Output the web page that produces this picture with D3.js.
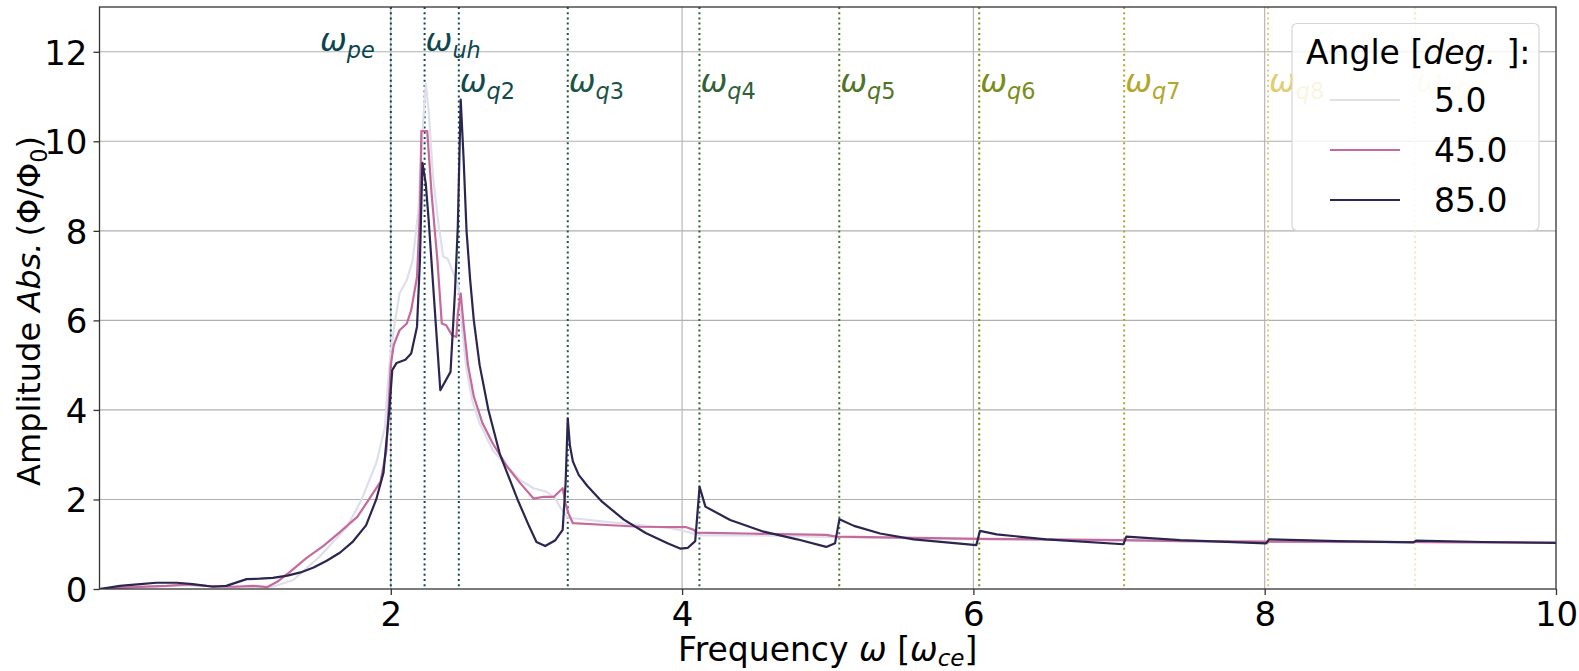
<!DOCTYPE html>
<html>
<head>
<meta charset="utf-8">
<script src="https://cdn.jsdelivr.net/npm/d3@7"></script>
<style>
  html, body { margin: 0; padding: 0; background: #fff; }
  svg { display: block; font-family: "DejaVu Sans", sans-serif; }
</style>
</head>
<body>
<svg id="chart" width="1579" height="671"></svg>
<script>
// Frequency samples (in units of w_ce) and response amplitude for each propagation angle
const freq5 = [0, 0.3, 0.6, 0.9, 1.19, 1.33, 1.51, 1.70, 1.80, 1.90, 1.96, 1.98, 2.00, 2.03, 2.06, 2.11, 2.15, 2.19, 2.22, 2.24, 2.26, 2.29, 2.33, 2.36, 2.39, 2.43, 2.46, 2.47, 2.49, 2.52, 2.56, 2.61, 2.70, 2.80, 2.89, 2.98, 3.07, 3.13, 3.16, 3.21, 3.25, 3.48, 3.71, 3.94, 4.08, 4.12, 4.5, 5.08, 6.04, 7.03, 8.02, 9.03, 10];
const amp5  = [0, 0.05, 0.08, 0.05, 0.05, 0.20, 0.72, 1.39, 2.00, 2.81, 3.62, 4.59, 5.33, 6.00, 6.60, 6.90, 7.34, 8.46, 10.32, 11.29, 10.69, 9.20, 8.09, 7.42, 7.38, 7.05, 6.82, 6.60, 5.80, 4.90, 4.20, 3.70, 3.10, 2.73, 2.43, 2.25, 2.17, 2.02, 1.84, 1.61, 1.58, 1.50, 1.43, 1.35, 1.24, 1.20, 1.20, 1.16, 1.11, 1.08, 1.05, 1.04, 1.03];

const freq45 = [0, 0.23, 0.46, 0.60, 0.74, 0.92, 1.06, 1.15, 1.22, 1.31, 1.42, 1.54, 1.65, 1.77, 1.85, 1.93, 1.97, 2.00, 2.02, 2.06, 2.11, 2.14, 2.18, 2.20, 2.21, 2.25, 2.28, 2.32, 2.35, 2.38, 2.42, 2.45, 2.46, 2.48, 2.50, 2.53, 2.57, 2.63, 2.70, 2.80, 2.89, 2.98, 3.05, 3.12, 3.18, 3.20, 3.22, 3.25, 3.48, 3.71, 4.03, 4.08, 4.10, 4.44, 4.99, 5.06, 6.05, 7.03, 7.42, 8.02, 9.03, 10];
const amp45  = [0, 0.04, 0.07, 0.10, 0.07, 0.05, 0.07, 0.04, 0.16, 0.39, 0.69, 0.97, 1.27, 1.61, 2.00, 2.40, 3.10, 5.00, 5.45, 5.78, 5.93, 6.23, 6.97, 8.46, 10.23, 10.23, 8.83, 7.34, 5.93, 5.89, 5.67, 5.63, 6.15, 6.60, 5.90, 5.00, 4.30, 3.70, 3.25, 2.73, 2.36, 2.02, 2.06, 2.06, 2.25, 1.91, 1.69, 1.47, 1.43, 1.39, 1.38, 1.32, 1.26, 1.24, 1.21, 1.17, 1.12, 1.09, 1.07, 1.06, 1.05, 1.03];

const freq85 = [0, 0.14, 0.28, 0.39, 0.53, 0.64, 0.78, 0.87, 1.01, 1.10, 1.19, 1.29, 1.38, 1.47, 1.56, 1.65, 1.74, 1.83, 1.90, 1.95, 1.99, 2.01, 2.04, 2.10, 2.14, 2.18, 2.20, 2.217, 2.24, 2.26, 2.34, 2.41, 2.44, 2.46, 2.48, 2.50, 2.52, 2.545, 2.57, 2.61, 2.67, 2.75, 2.87, 2.95, 3.00, 3.06, 3.13, 3.18, 3.20, 3.215, 3.23, 3.25, 3.29, 3.35, 3.45, 3.60, 3.75, 3.90, 3.99, 4.04, 4.09, 4.12, 4.16, 4.33, 4.56, 4.79, 4.99, 5.05, 5.08, 5.18, 5.36, 5.59, 6.02, 6.045, 6.16, 6.50, 7.03, 7.05, 7.42, 8.01, 8.03, 8.5, 9.02, 9.04, 9.5, 10];
const amp85  = [0, 0.07, 0.11, 0.14, 0.14, 0.11, 0.05, 0.07, 0.22, 0.23, 0.25, 0.30, 0.37, 0.48, 0.63, 0.81, 1.06, 1.42, 2.00, 2.60, 4.00, 4.89, 5.05, 5.12, 5.26, 5.86, 7.34, 9.52, 9.06, 8.24, 4.44, 4.85, 6.60, 8.09, 10.93, 9.60, 8.00, 6.90, 6.00, 5.00, 4.00, 3.00, 2.00, 1.40, 1.05, 0.96, 1.09, 1.32, 2.36, 3.81, 3.20, 2.85, 2.55, 2.30, 1.95, 1.55, 1.25, 1.02, 0.90, 0.92, 1.07, 2.28, 1.84, 1.54, 1.28, 1.11, 0.94, 1.02, 1.56, 1.41, 1.24, 1.11, 0.98, 1.30, 1.22, 1.11, 1.00, 1.17, 1.09, 1.02, 1.11, 1.07, 1.04, 1.08, 1.05, 1.03];

const angles = ["5.0", "45.0", "85.0"];
const angleColors = ["#dedeec", "#c6699c", "#2a2650"];

// Characteristic frequencies: plasma, upper hybrid and Bernstein-type q-resonances
const resNames = ["pe", "uh", "q2", "q3", "q4", "q5", "q6", "q7", "q8", "q9"];
const resFreq  = [2.0, 2.232, 2.467, 3.215, 4.119, 5.079, 6.04, 7.035, 8.023, 9.032];
const resColors = ["#0b4450", "#0d4850", "#0f4a4c", "#1b5446", "#2f6038", "#4f7426", "#7a8c18", "#b3a62a", "#e0cd72", "#f5e9bc"];

const xTicks = [2, 4, 6, 8, 10];
const yTicks = [0, 2, 4, 6, 8, 10, 12];

const m = { left: 99.5, right: 1556, top: 7, bottom: 589 };
const FS_TICK = 34, FS_LAB = 33, FS_YLAB = 32, FS_RES = 32, FS_LEG = 33;

const svg = d3.select("#chart");
const x = d3.scaleLinear().domain([0, 10]).range([m.left, m.right]);
const y = d3.scaleLinear().domain([0, 13]).range([m.bottom, m.top]);

// grid
const grid = svg.append("g").attr("stroke", "#b0b0b0").attr("stroke-width", 1.1);
grid.selectAll("line.h").data(yTicks.filter(d => d > 0)).join("line")
  .attr("x1", m.left).attr("x2", m.right)
  .attr("y1", d => y(d)).attr("y2", d => y(d));
grid.selectAll("line.v").data(xTicks.filter(d => d < 10)).join("line")
  .attr("y1", m.top).attr("y2", m.bottom)
  .attr("x1", d => x(d)).attr("x2", d => x(d));

// resonance markers
const res = resNames.map((n, i) => ({ name: n, f: resFreq[i], c: resColors[i] }));
svg.append("g").selectAll("line").data(res).join("line")
  .attr("x1", d => x(d.f)).attr("x2", d => x(d.f))
  .attr("y1", m.top).attr("y2", m.bottom)
  .attr("stroke", d => d.c).attr("stroke-width", 2)
  .attr("stroke-dasharray", "2,3.2");

// curves
const series = [
  { f: freq5, a: amp5 },
  { f: freq45, a: amp45 },
  { f: freq85, a: amp85 }
];
const line = d3.line().x(d => x(d[0])).y(d => y(d[1]));
svg.append("clipPath").attr("id", "plotclip").append("rect")
  .attr("x", m.left).attr("y", m.top).attr("width", m.right - m.left).attr("height", m.bottom - m.top);
svg.append("g").attr("clip-path", "url(#plotclip)").selectAll("path").data(series).join("path")
  .attr("d", s => line(s.f.map((f, i) => [f, s.a[i]])))
  .attr("fill", "none")
  .attr("stroke", (s, i) => angleColors[i])
  .attr("stroke-width", 2.2)
  .attr("stroke-linejoin", "round");

// resonance labels
function omegaLabel(g, sub, xpos, ypos, anchor, color) {
  const t = g.append("text").attr("x", xpos).attr("y", ypos)
    .attr("text-anchor", anchor).attr("fill", color).attr("font-size", FS_RES);
  t.append("tspan").attr("font-style", "italic").text("ω");
  const s = t.append("tspan").attr("font-size", FS_RES * 0.7).attr("dy", 7);
  const letters = sub.replace(/[0-9]/g, "");
  const digits = sub.replace(/[^0-9]/g, "");
  s.append("tspan").attr("font-style", "italic").text(letters);
  if (digits) s.append("tspan").text(digits);
}
const labels = svg.append("g");
res.forEach(d => {
  if (d.name === "pe") omegaLabel(labels, d.name, x(d.f) - 16, y(12) - 1, "end", d.c);
  else if (d.name === "uh") omegaLabel(labels, d.name, x(d.f) + 1, y(12) - 1, "start", d.c);
  else omegaLabel(labels, d.name, x(d.f) + 1, y(11) - 5, "start", d.c);
});

// frame
svg.append("rect").attr("x", m.left).attr("y", m.top)
  .attr("width", m.right - m.left).attr("height", m.bottom - m.top)
  .attr("fill", "none").attr("stroke", "#333").attr("stroke-width", 1.3);

// axes
const xAxis = d3.axisBottom(x).tickValues(xTicks).tickSize(6).tickPadding(6).tickFormat(d3.format("d"));
const yAxis = d3.axisLeft(y).tickValues(yTicks).tickSize(6).tickPadding(6).tickFormat(d3.format("d"));
const gx = svg.append("g").attr("transform", `translate(0,${m.bottom})`).call(xAxis);
const gy = svg.append("g").attr("transform", `translate(${m.left},0)`).call(yAxis);
[gx, gy].forEach(g => {
  g.select(".domain").remove();
  g.selectAll(".tick line").attr("stroke", "#333").attr("stroke-width", 1.3);
  g.selectAll(".tick text").attr("fill", "#000").attr("font-size", FS_TICK)
    .attr("font-family", "DejaVu Sans, sans-serif");
});
gx.selectAll(".tick text").attr("y", 37).attr("dy", null);
gy.selectAll(".tick text").attr("dy", "0.36em");

// axis titles
const xt = svg.append("text").attr("x", (m.left + m.right) / 2).attr("y", 661)
  .attr("text-anchor", "middle").attr("font-size", FS_LAB);
xt.append("tspan").text("Frequency ");
xt.append("tspan").attr("font-style", "italic").text("ω");
xt.append("tspan").text(" [");
xt.append("tspan").attr("font-style", "italic").text("ω");
xt.append("tspan").attr("font-style", "italic").attr("font-size", FS_LAB * 0.7).attr("dy", 5).text("ce");
xt.append("tspan").attr("dy", -5).text("]");

const yt = svg.append("text")
  .attr("transform", `translate(40,311) rotate(-90)`)
  .attr("text-anchor", "middle").attr("font-size", FS_YLAB);
yt.append("tspan").text("Amplitude ");
yt.append("tspan").attr("font-style", "italic").text("Abs.");
yt.append("tspan").attr("dx", -4).text(" (Φ/Φ");
yt.append("tspan").attr("font-size", FS_YLAB * 0.7).attr("dy", 7).text("0");
yt.append("tspan").attr("dy", -7).text(")");

// legend
const lg = svg.append("g");
lg.append("rect").attr("x", 1292).attr("y", 23.5).attr("width", 247).attr("height", 207)
  .attr("rx", 5).attr("fill", "#fff").attr("fill-opacity", 0.8)
  .attr("stroke", "#d6d6d6").attr("stroke-width", 1.2);
const title = lg.append("text").attr("x", 1306).attr("y", 64).attr("font-size", FS_LEG);
title.append("tspan").text("Angle [");
title.append("tspan").attr("font-style", "italic").text("deg.");
title.append("tspan").text(" ]:");
angles.forEach((a, i) => {
  const yy = 100 + i * 50;
  lg.append("line").attr("x1", 1330).attr("x2", 1400).attr("y1", yy).attr("y2", yy)
    .attr("stroke", angleColors[i]).attr("stroke-width", 2.2);
  lg.append("text").attr("x", 1434).attr("y", yy + 12).attr("font-size", FS_LEG).text(a);
});
</script>
</body>
</html>
